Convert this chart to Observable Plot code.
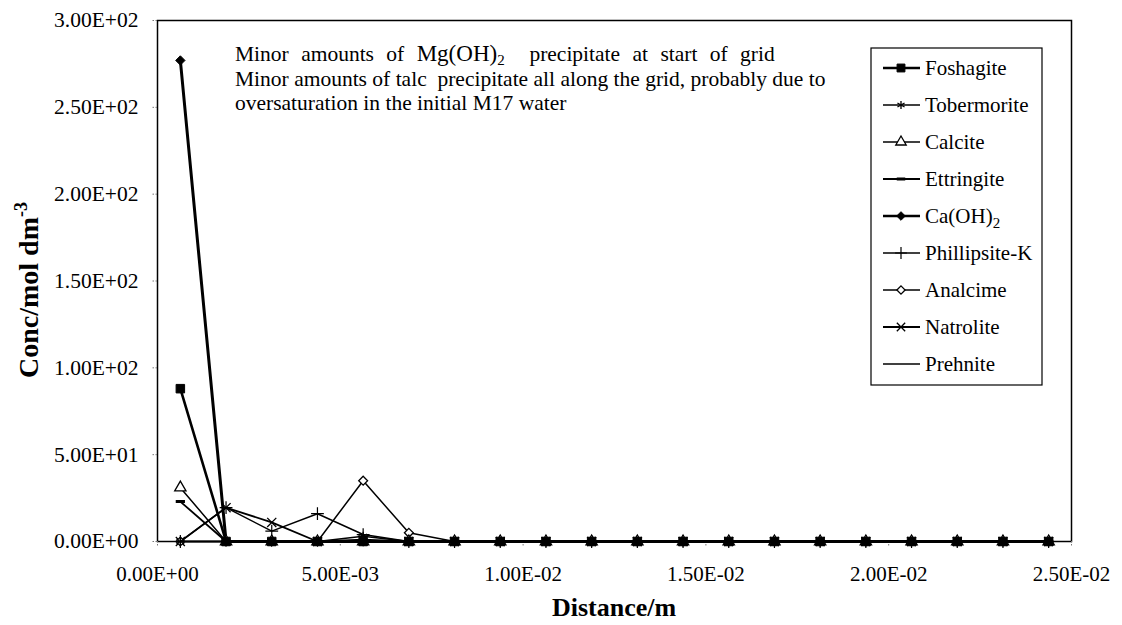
<!DOCTYPE html>
<html><head><meta charset="utf-8">
<script src="https://cdn.jsdelivr.net/npm/d3@7"></script>
<script src="https://cdn.jsdelivr.net/npm/@observablehq/plot@0.6"></script>
<style>
body{margin:0;background:#fff}
#chart{position:relative;width:1122px;height:625px}
</style>
</head><body><div id="chart"></div>
<script>
// Distance (m) of each grid cell centre
const distance = [0.000625, 0.001875, 0.003125, 0.004375, 0.005625, 0.006875, 0.008125, 0.009375, 0.010625, 0.011875,
                  0.013125, 0.014375, 0.015625, 0.016875, 0.018125, 0.019375, 0.020625, 0.021875, 0.023125, 0.024375];
// Concentrations (mol dm-3)
const foshagite   = [88, 0, 0, 0, 0, 0, 0, 0, 0, 0, 0, 0, 0, 0, 0, 0, 0, 0, 0, 0];
const tobermorite = [0, 0, 0, 0, 3, 0, 0, 0, 0, 0, 0, 0, 0, 0, 0, 0, 0, 0, 0, 0];
const calcite     = [31, 0, 0, 0, 0, 0, 0, 0, 0, 0, 0, 0, 0, 0, 0, 0, 0, 0, 0, 0];
const ettringite  = [23, 0, 0, 0, 0, 0, 0, 0, 0, 0, 0, 0, 0, 0, 0, 0, 0, 0, 0, 0];
const caoh2       = [277, 0, 0, 0, 0, 0, 0, 0, 0, 0, 0, 0, 0, 0, 0, 0, 0, 0, 0, 0];
const phillipsite = [0, 19.5, 6, 16, 4, 0, 0, 0, 0, 0, 0, 0, 0, 0, 0, 0, 0, 0, 0, 0];
const analcime    = [0, 0, 0, 0, 35, 5, 0, 0, 0, 0, 0, 0, 0, 0, 0, 0, 0, 0, 0, 0];
const natrolite   = [0, 19.5, 11, 0, 1, 0, 0, 0, 0, 0, 0, 0, 0, 0, 0, 0, 0, 0, 0, 0];
const prehnite    = [0, 0, 0, 0, 0, 0, 0, 0, 0, 0, 0, 0, 0, 0, 0, 0, 0, 0, 0, 0];

const seriesNames = ["Foshagite", "Tobermorite", "Calcite", "Ettringite", "Ca(OH)2", "Phillipsite-K", "Analcime", "Natrolite", "Prehnite"];
const seriesValues = [foshagite, tobermorite, calcite, ettringite, caoh2, phillipsite, analcime, natrolite, prehnite];

const xTicks = [0, 0.005, 0.01, 0.015, 0.02, 0.025];
const yTicks = [0, 50, 100, 150, 200, 250, 300];

const dash = {draw(ctx, size){ const w = Math.sqrt(size) * 1.3; ctx.moveTo(-w/2, 0); ctx.lineTo(w/2, 0); ctx.closePath(); }};
const styles = [
  {symbol: d3.symbolSquare,   r: 4.8, fill: "black", stroke: "black", sw: 2.6, msw: 1},
  {symbol: d3.symbolAsterisk, r: 4.2, fill: "none",  stroke: "black", sw: 1.5, msw: 1.3},
  {symbol: d3.symbolTriangle, r: 4.2, fill: "white", stroke: "black", sw: 1.5, msw: 1.3},
  {symbol: dash,              r: 4.0, fill: "none",  stroke: "black", sw: 1.8, msw: 3},
  {symbol: d3.symbolDiamond2, r: 4.2, fill: "black", stroke: "black", sw: 3,   msw: 1},
  {symbol: d3.symbolPlus,     r: 4.2, fill: "none",  stroke: "black", sw: 1.5, msw: 1.2},
  {symbol: d3.symbolDiamond2, r: 4.0, fill: "white", stroke: "black", sw: 1.5, msw: 1.3},
  {symbol: d3.symbolTimes,    r: 4.2, fill: "none",  stroke: "black", sw: 1.8, msw: 1.3},
  {symbol: null,              r: 0,   fill: "none",  stroke: "black", sw: 1.5, msw: 1}
];

const rows = seriesNames.map((name, i) => distance.map((d, j) => ({series: name, x: d, y: seriesValues[i][j]})));

function sci(v){
  if (v === 0) return "0.00E+00";
  const e = Math.floor(Math.log10(Math.abs(v)) + 1e-9);
  const m = v / Math.pow(10, e);
  return m.toFixed(2) + "E" + (e < 0 ? "-" : "+") + String(Math.abs(e)).padStart(2, "0");
}

const FONT = "'Liberation Serif','Times New Roman',serif";
const marks = [];
for (let i = seriesNames.length - 1; i >= 0; i--) {
  const s = styles[i];
  marks.push(Plot.line(rows[i], {x: "x", y: "y", stroke: s.stroke, strokeWidth: s.sw}));
  if (s.symbol) marks.push(Plot.dot(rows[i], {x: "x", y: "y", symbol: s.symbol, r: s.r, fill: s.fill, stroke: s.stroke, strokeWidth: s.msw}));
}

const chart = Plot.plot({
  width: 1122, height: 625,
  marginLeft: 157, marginRight: 51, marginTop: 20, marginBottom: 84,
  style: {fontFamily: FONT, fontSize: "21px", color: "black", background: "white"},
  x: {domain: [0, 0.025]},
  y: {domain: [0, 300]},
  marks: [
    Plot.frame({stroke: "black", strokeWidth: 1.5}),
    Plot.axisX({ticks: xTicks, tickFormat: sci, tickSize: 6, tickPadding: 19, fontSize: 21, label: null, stroke: "#777", strokeDasharray: "1.5,1.5"}),
    Plot.axisY({ticks: yTicks, tickFormat: sci, tickSize: 6, tickPadding: 13, fontSize: 21.5, label: null, stroke: "#777", strokeDasharray: "1.5,1.5"}),
    ...marks
  ]
});
document.getElementById("chart").appendChild(chart);

const svg = d3.select(chart);
// axis titles
const yt = svg.append("text").attr("transform", "translate(38,290) rotate(-90)")
  .attr("text-anchor", "middle").attr("font-family", FONT).attr("font-weight", "bold").attr("font-size", 28).attr("fill", "black");
yt.append("tspan").text("Conc/mol dm");
yt.append("tspan").attr("dy", -11).attr("font-size", 18).text("-3");
svg.append("text").attr("x", 614).attr("y", 616).attr("text-anchor", "middle")
  .attr("font-family", FONT).attr("font-weight", "bold").attr("font-size", 26).attr("fill", "black").text("Distance/m");

// annotation
const ann = svg.append("g").attr("font-family", FONT).attr("font-size", 21.5).attr("fill", "black").attr("text-anchor", "start");
const l1 = ann.append("text").attr("x", 235).attr("y", 61).style("word-spacing", "7px").style("white-space", "pre");
l1.append("tspan").text("Minor amounts of ");
l1.append("tspan").attr("font-size", 23).text("Mg(OH)");
l1.append("tspan").attr("dy", 4).attr("font-size", 15).text("2");
l1.append("tspan").attr("dy", -4).text("  precipitate at start of grid");
ann.append("text").attr("x", 235).attr("y", 86).style("white-space", "pre").text("Minor amounts of talc  precipitate all along the grid, probably due to");
ann.append("text").attr("x", 235).attr("y", 110).text("oversaturation in the initial M17 water");

// legend
const lg = svg.append("g").attr("font-family", FONT).attr("font-size", 21).attr("fill", "black").attr("text-anchor", "start");
lg.append("rect").attr("x", 871).attr("y", 48).attr("width", 171).attr("height", 337).attr("fill", "white").attr("stroke", "black").attr("stroke-width", 1.2);
seriesNames.forEach((name, i) => {
  const s = styles[i];
  const cy = 68 + i * 37;
  lg.append("line").attr("x1", 883).attr("x2", 920).attr("y1", cy).attr("y2", cy).attr("stroke", "black").attr("stroke-width", Math.min(s.sw, 2.4));
  if (s.symbol) {
    lg.append("path").attr("transform", `translate(901,${cy})`)
      .attr("d", d3.symbol().type(s.symbol).size(Math.PI * s.r * s.r * 0.85)())
      .attr("fill", s.fill).attr("stroke", "black").attr("stroke-width", s.msw);
  }
  const t = lg.append("text").attr("x", 925).attr("y", cy + 7);
  if (name === "Ca(OH)2") {
    t.append("tspan").text("Ca(OH)");
    t.append("tspan").attr("dy", 5).attr("font-size", 15).text("2");
  } else t.text(name);
});
</script>
</body></html>
